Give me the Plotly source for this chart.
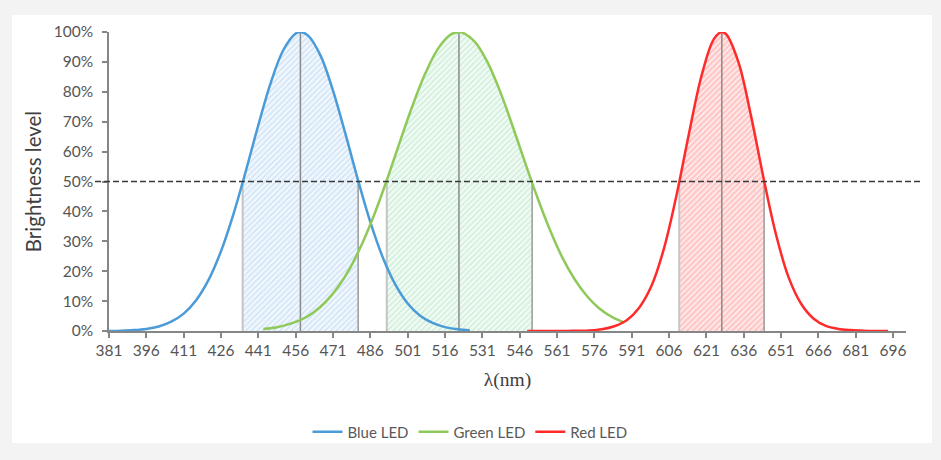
import plotly.graph_objects as go

# ---- data ----
blue_x = [381, 386, 391, 396, 401, 406, 411, 416, 421, 426, 431, 436, 441, 446, 451, 456, 458,
          461, 466, 471, 476, 481, 486, 491, 496, 501, 506, 511, 516, 521, 526]
blue_y = [0.000, 0.001, 0.003, 0.007, 0.015, 0.031, 0.058, 0.103, 0.171, 0.267, 0.391, 0.536, 0.689,
          0.831, 0.939, 0.995, 1.000, 0.988, 0.921, 0.804, 0.659, 0.506, 0.364, 0.246, 0.156, 0.092,
          0.051, 0.027, 0.013, 0.006, 0.002]

green_x = [443, 448, 453, 458, 463, 468, 473, 478, 483, 488, 493, 498, 503, 508, 513, 518, 521.6,
           523, 528, 533, 538, 543, 548, 553, 558, 563, 568, 573, 578, 583, 588]
green_y = [0.007, 0.012, 0.022, 0.037, 0.061, 0.097, 0.147, 0.213, 0.298, 0.399, 0.514, 0.636, 0.755,
           0.860, 0.942, 0.990, 1.000, 0.998, 0.967, 0.900, 0.804, 0.689, 0.567, 0.449, 0.341, 0.248,
           0.174, 0.117, 0.075, 0.047, 0.028]

red_x = [549, 554, 559, 564, 569, 574, 579, 584, 589, 594, 599, 604, 609, 614, 619, 624, 627.2,
         629, 634, 639, 644, 649, 654, 659, 664, 669, 674, 679, 684, 689, 694]
red_y = [0.000, 0.000, 0.000, 0.000, 0.001, 0.002, 0.006, 0.016, 0.036, 0.078, 0.152, 0.277, 0.454,
         0.660, 0.852, 0.976, 1.000, 0.992, 0.896, 0.717, 0.510, 0.322, 0.180, 0.092, 0.042, 0.017,
         0.007, 0.003, 0.001, 0.000, 0.000]

# FWHM band edges and peak wavelengths (nm)
blue_band = [434.7, 481.1]
green_band = [492.6, 551.0]
red_band = [610.1, 644.2]
peaks = [457.9, 521.6, 627.2]
half_level = 0.5

x_ticks = list(range(381, 697, 15))
y_ticks = [i / 10 for i in range(11)]
y_tick_text = [f"{i * 10}%" for i in range(11)]

series = [
    ("Blue LED", blue_x, blue_y, blue_band, "#4a9bd8", "#a9cdee", "#f1f7fd"),
    ("Green LED", green_x, green_y, green_band, "#8fc95a", "#a6dfbb", "#f1fbf4"),
    ("Red LED", red_x, red_y, red_band, "#ff2a2a", "#ff8c8c", "#ffe6e6"),
]

fig = go.Figure()

# hatched FWHM areas
for name, xs, ys, band, col, fg, bg in series:
    fx = [band[0]] + [x for x in xs if band[0] < x < band[1]] + [band[1]]
    fy = [half_level] + [y for x, y in zip(xs, ys) if band[0] < x < band[1]] + [half_level]
    fig.add_trace(go.Scatter(
        x=fx, y=fy, mode="lines", line=dict(width=0, shape="spline"),
        fill="tozeroy", fillcolor=bg,
        fillpattern=dict(shape="/", fgcolor=fg, bgcolor=bg, size=4, solidity=0.35),
        showlegend=False, hoverinfo="skip"))

# vertical guide lines
for (name, xs, ys, band, col, fg, bg), pk in zip(series, peaks):
    fig.add_trace(go.Scatter(x=[band[0], band[0]], y=[0, half_level], mode="lines",
                             line=dict(color="#c4c4c4", width=2), showlegend=False, hoverinfo="skip"))
    fig.add_trace(go.Scatter(x=[band[1], band[1]], y=[0, half_level], mode="lines",
                             line=dict(color="#9a9a9a", width=1.5), showlegend=False, hoverinfo="skip"))
    fig.add_trace(go.Scatter(x=[pk, pk], y=[0, 1], mode="lines",
                             line=dict(color="#8a8a8a", width=1.5), showlegend=False, hoverinfo="skip"))

# spectral curves
for name, xs, ys, band, col, fg, bg in series:
    fig.add_trace(go.Scatter(x=xs, y=ys, mode="lines", name=name,
                             line=dict(color=col, width=2.5, shape="spline")))

W, H = 941, 460
L, R, T, B = 109, 35, 32, 129
pw, ph = W - L - R, H - T - B


def px(xp):
    return (xp - L) / pw


def py(yp):
    return (H - B - yp) / ph


fig.update_layout(
    width=W, height=H,
    margin=dict(l=L, r=R, t=T, b=B),
    paper_bgcolor="#f3f3f3",
    plot_bgcolor="rgba(0,0,0,0)",
    font=dict(family="Lato, Open Sans, sans-serif", color="#595959"),
    showlegend=True,
    legend=dict(orientation="h", x=px(470), y=py(432), xanchor="center", yanchor="middle",
                font=dict(size=15, color="#595959"), bgcolor="rgba(0,0,0,0)",
                itemwidth=30, tracegroupgap=0),
    shapes=[
        dict(type="rect", xref="paper", yref="paper", x0=px(12), x1=px(932), y0=py(443), y1=py(15),
             fillcolor="white", line=dict(width=0), layer="below"),
        dict(type="line", xref="paper", yref="y", x0=px(95), x1=px(923), y0=half_level, y1=half_level,
             line=dict(color="#3a3a3a", width=1.5, dash="6px,3px"), layer="above"),
    ],
)

fig.update_xaxes(
    range=[381, 701.2], tickmode="array", tickvals=x_ticks, ticktext=[str(v) for v in x_ticks],
    showgrid=False, zeroline=False, showline=True, linecolor="#868686", linewidth=1.5,
    ticks="outside", ticklen=5, tickwidth=1.5, tickcolor="#868686",
    tickfont=dict(size=15.5, color="#555555"),
    title=dict(text="λ(nm)", font=dict(family="Liberation Serif, serif", size=19.5, color="#404040"),
               standoff=14),
)
fig.update_yaxes(
    range=[0, 1], tickmode="array", tickvals=y_ticks, ticktext=y_tick_text,
    showgrid=False, zeroline=False, showline=True, linecolor="#868686", linewidth=1.5,
    ticks="outside", ticklen=5, tickwidth=1.5, tickcolor="#868686",
    tickfont=dict(size=15.5, color="#555555"), ticklabelstandoff=6,
    title=dict(text="Brightness level", font=dict(size=20.5, color="#404040"), standoff=7),
)

fig.write_html("out.html")
